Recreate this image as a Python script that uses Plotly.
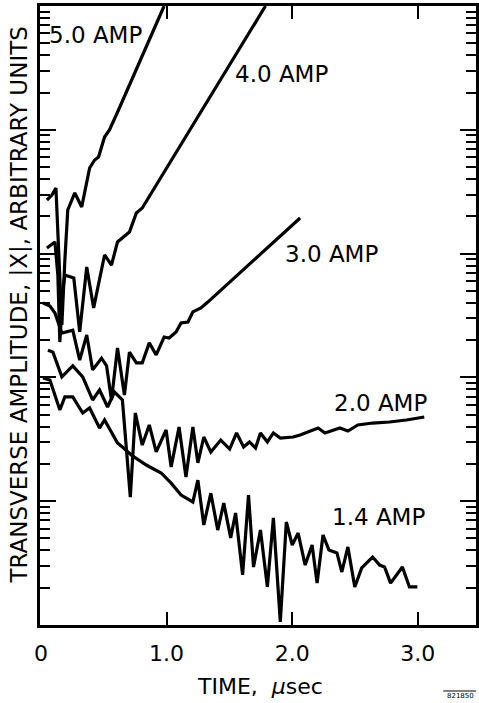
import plotly.graph_objects as go

# Time (microseconds) and transverse amplitude |X| (arbitrary units)
t_50 = [0.047, 0.087, 0.119, 0.142, 0.166, 0.190, 0.213, 0.269, 0.324, 0.387, 0.427, 0.458,
        0.506, 0.545, 0.617, 0.980]
a_50 = [2710, 2972, 3388, 888, 265, 888, 2250, 3090, 2378, 4913, 5703, 6030,
        8750, 9960, 14450, 100000]

t_40 = [0.047, 0.111, 0.134, 0.150, 0.174, 0.190, 0.261, 0.308, 0.364, 0.419, 0.506, 0.561,
        0.609, 0.704, 0.759, 0.806, 1.787]
a_40 = [1110, 1241, 671, 193, 508, 671, 635, 233, 780, 364, 975, 809,
        1241, 1494, 2128, 2335, 100000]

t_30 = [0.016, 0.071, 0.111, 0.166, 0.253, 0.308, 0.364, 0.411, 0.482, 0.522, 0.561, 0.609,
        0.664, 0.704, 0.759, 0.806, 0.862, 0.917, 0.980, 1.020, 1.075, 1.115, 1.170, 1.209,
        1.273, 1.328, 2.063]
a_30 = [399, 377, 331, 228, 241, 138, 220, 115, 143, 124, 65.7, 173,
        72.1, 160, 131, 131, 190, 152, 212, 208, 233, 275, 280, 338,
        364, 406, 1940]

t_20 = [0.055, 0.095, 0.166, 0.253, 0.332, 0.411, 0.466, 0.530, 0.585, 0.648, 0.711, 0.751,
        0.806, 0.862, 0.917, 0.996, 1.036, 1.099, 1.154, 1.209, 1.249, 1.296, 1.352, 1.431,
        1.502, 1.557, 1.613, 1.660, 1.708, 1.747, 1.802, 1.850, 1.905, 2.008, 2.063, 2.119,
        2.206, 2.261, 2.379, 2.443, 2.522, 2.640, 2.775, 2.909, 3.051]
a_20 = [166, 160, 101, 124, 101, 65.7, 79.1, 57.7, 76.2, 65.7, 10.8, 51.6,
        28.4, 41.3, 25.0, 37.6, 18.9, 39.7, 15.7, 39.7, 20.4, 33.0, 25.0, 31.2,
        26.4, 35.6, 27.4, 30.1, 26.9, 35.6, 30.1, 35.6, 32.4, 33.0, 34.3, 36.2,
        39.0, 35.6, 39.0, 36.9, 41.3, 42.8, 43.6, 45.3, 47.9]

t_14 = [0.016, 0.071, 0.150, 0.190, 0.253, 0.332, 0.387, 0.466, 0.506, 0.609, 0.648, 0.719,
        0.838, 0.957, 1.036, 1.115, 1.209, 1.249, 1.296, 1.352, 1.407, 1.455, 1.510, 1.549,
        1.605, 1.652, 1.692, 1.747, 1.802, 1.850, 1.905, 1.953, 2.000, 2.047, 2.103, 2.158,
        2.198, 2.245, 2.292, 2.356, 2.395, 2.443, 2.498, 2.553, 2.640, 2.696, 2.735, 2.783,
        2.877, 2.933, 2.996]
a_14 = [98.9, 95.3, 54.5, 69.5, 69.5, 51.6, 56.6, 39.0, 45.3, 29.5, 27.4, 23.6,
        19.6, 16.9, 14.0, 11.2, 9.86, 14.8, 6.43, 11.6, 5.85, 9.67, 5.05, 8.03,
        2.54, 11.2, 2.94, 5.85, 2.03, 7.32, 1.06, 6.79, 4.43, 5.53, 3.05, 4.43,
        2.18, 5.33, 4.04, 3.82, 2.68, 4.27, 2.03, 2.89, 3.54, 3.05, 2.94, 2.18,
        2.94, 2.03, 2.03]

series = [(t_50, a_50), (t_40, a_40), (t_30, a_30), (t_20, a_20), (t_14, a_14)]

# Curve labels: text, time of label's left edge, log10 amplitude of its centre
label_text = ["5.0 AMP", "4.0 AMP", "3.0 AMP", "2.0 AMP", "1.4 AMP"]
label_t = [0.050, 1.526, 1.929, 2.316, 2.300]
label_logy = [4.766, 4.451, 2.997, 1.793, 0.872]

x_tickvals = [0, 1, 2, 3]
x_ticktext = ["0", "1.0", "2.0", "3.0"]

FONT = "DejaVu Sans, Verdana, sans-serif"

fig = go.Figure()
for t, a in series:
    fig.add_trace(go.Scatter(x=t, y=a, mode="lines",
                             line=dict(color="black", width=3.2),
                             hoverinfo="skip", showlegend=False))

for txt, lx, ly in zip(label_text, label_t, label_logy):
    fig.add_annotation(x=lx, y=ly, xref="x", yref="y", text=txt, showarrow=False,
                       xanchor="left", yanchor="middle",
                       font=dict(family=FONT, size=23, color="black"))

fig.add_annotation(x=-0.049, y=0.517, xref="paper", yref="paper",
                   text="TRANSVERSE AMPLITUDE, |X|, ARBITRARY UNITS",
                   textangle=-90, showarrow=False, xanchor="center", yanchor="middle",
                   font=dict(family=FONT, size=23, color="black"))

fig.add_annotation(x=0.505, y=-0.099, xref="paper", yref="paper",
                   text="TIME,\u00a0\u00a0<i>\u03bc</i>sec", showarrow=False,
                   xanchor="center", yanchor="middle",
                   font=dict(family=FONT, size=22, color="black"))

fig.add_annotation(x=1.0, y=-0.1145, xref="paper", yref="paper",
                   text="821850", showarrow=False, xanchor="right", yanchor="middle",
                   font=dict(family=FONT, size=7, color="black"))
fig.add_shape(type="line", xref="paper", yref="paper", x0=0.925, x1=1.0,
              y0=-0.1066, y1=-0.1066, line=dict(color="black", width=1))

fig.update_layout(
    width=479, height=703,
    margin=dict(l=40, r=0, t=6, b=78),
    paper_bgcolor="white", plot_bgcolor="white",
    font=dict(family=FONT, color="black"),
)
fig.update_xaxes(range=[-0.008, 3.463], tickvals=x_tickvals, ticktext=x_ticktext,
                 ticks="inside", ticklen=13, tickwidth=2, tickcolor="black",
                 showline=True, linewidth=2.5, linecolor="black", mirror="ticks",
                 showgrid=False, zeroline=False, ticklabelstandoff=7,
                 tickfont=dict(family=FONT, size=22, color="black"))
fig.update_yaxes(type="log", range=[0, 5], dtick=1, showticklabels=False,
                 ticks="inside", ticklen=16, tickwidth=2, tickcolor="black",
                 showline=True, linewidth=2.5, linecolor="black", mirror="ticks",
                 showgrid=False, zeroline=False,
                 minor=dict(ticks="inside", ticklen=10, tickwidth=2, tickcolor="black",
                            dtick="D1", showgrid=False))

fig.write_html("out.html")
